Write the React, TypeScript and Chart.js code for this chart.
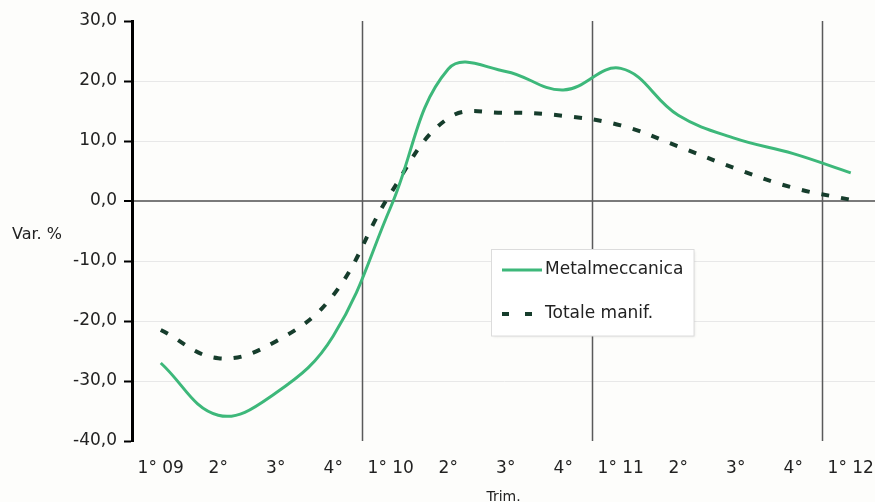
import React, { useEffect, useRef } from 'react';
import { Chart, registerables } from 'chart.js';

Chart.register(...registerables);

// ---- data ----
const categories = ['1° 09', '2°', '3°', '4°', '1° 10', '2°', '3°', '4°', '1° 11', '2°', '3°', '4°', '1° 12'];
const metalmeccanica = [-27.0, -35.7, -32.0, -22.5, -1.0, 22.0, 21.6, 18.5, 22.1, 14.3, 10.4, 7.9, 4.7];
const totaleManif = [-21.5, -26.2, -23.4, -15.7, 1.3, 13.8, 14.7, 14.2, 12.6, 9.1, 5.4, 2.2, 0.2];
const seriesNames = ['Metalmeccanica', 'Totale manif.'];
const yearDividers = [3.5, 7.5, 11.5];
const yMin = -40;
const yMax = 30;
const yStep = 10;
const yAxisLabel = 'Var. %';
const xAxisLabel = 'Trim.';

const GREEN = '#3DB87A';
const DARK = '#163D2C';
const TEXT = '#222222';
const FONT = "'DejaVu Sans', Verdana, sans-serif";

const bgPlugin = {
  id: 'bg',
  beforeDraw(chart: any) {
    const { ctx, width, height } = chart;
    ctx.save();
    ctx.fillStyle = '#fdfdfb';
    ctx.fillRect(0, 0, width, height);
    ctx.restore();
  },
};

const dividersPlugin = {
  id: 'dividers',
  beforeDatasetsDraw(chart: any) {
    const { ctx, chartArea, scales } = chart;
    ctx.save();
    ctx.strokeStyle = '#5a5a5a';
    ctx.lineWidth = 1.5;
    yearDividers.forEach((v) => {
      const x = Math.round(scales.x.getPixelForValue(v)) + 0.5;
      ctx.beginPath();
      ctx.moveTo(x, chartArea.top);
      ctx.lineTo(x, chartArea.bottom);
      ctx.stroke();
    });
    ctx.restore();
  },
};

const labelsPlugin = {
  id: 'sideLabel',
  afterDraw(chart: any) {
    const { ctx } = chart;
    ctx.save();
    ctx.fillStyle = TEXT;
    ctx.font = `16px ${FONT}`;
    ctx.textAlign = 'left';
    ctx.textBaseline = 'middle';
    ctx.fillText(yAxisLabel, 12, 235);
    ctx.restore();
  },
};

const legendPlugin = {
  id: 'boxLegend',
  afterDatasetsDraw(chart: any) {
    const { ctx } = chart;
    const left = 491.5, top = 249.5, w = 202.5, h = 86.5;
    ctx.save();
    ctx.shadowColor = 'rgba(0,0,0,0.12)';
    ctx.shadowBlur = 3;
    ctx.shadowOffsetX = 1;
    ctx.shadowOffsetY = 1;
    ctx.fillStyle = '#ffffff';
    ctx.fillRect(left, top, w, h);
    ctx.shadowColor = 'transparent';
    ctx.strokeStyle = '#dcdcdc';
    ctx.lineWidth = 1;
    ctx.strokeRect(left, top, w, h);
    const rows = [270, 314];
    chart.data.datasets.forEach((ds: any, i: number) => {
      const y = rows[i];
      ctx.beginPath();
      ctx.strokeStyle = ds.borderColor;
      ctx.lineWidth = ds.borderWidth;
      ctx.setLineDash(ds.borderDash && ds.borderDash.length ? [7, 16] : []);
      ctx.moveTo(502, y);
      ctx.lineTo(542, y);
      ctx.stroke();
      ctx.setLineDash([]);
      ctx.fillStyle = TEXT;
      ctx.font = `17px ${FONT}`;
      ctx.textAlign = 'left';
      ctx.textBaseline = 'middle';
      ctx.fillText(ds.label, 545, y);
    });
    ctx.restore();
  },
};

export default function App() {
  const ref = useRef<HTMLCanvasElement>(null);
  useEffect(() => {
    if (!ref.current) return;
    const chart = new Chart(ref.current, {
      type: 'line',
      data: {
        datasets: [
          {
            label: seriesNames[0],
            data: metalmeccanica.map((y, i) => ({ x: i, y })),
            borderColor: GREEN,
            backgroundColor: GREEN,
            borderWidth: 3,
            pointRadius: 0,
            tension: 0.4,
            fill: false,
          },
          {
            label: seriesNames[1],
            data: totaleManif.map((y, i) => ({ x: i, y })),
            borderColor: DARK,
            backgroundColor: DARK,
            borderWidth: 4,
            borderDash: [8, 12],
            borderCapStyle: 'butt',
            pointRadius: 0,
            tension: 0.4,
            fill: false,
          },
        ],
      },
      options: {
        animation: false,
        responsive: false,
        devicePixelRatio: 1,
        layout: { padding: { top: 21, left: 0, right: 0, bottom: 0 } },
        plugins: { legend: { display: false }, tooltip: { enabled: false } },
        scales: {
          x: {
            type: 'linear',
            min: -0.5,
            max: -0.5 + (875 - 132) / 57.5,
            afterBuildTicks: (s: any) => {
              s.ticks = categories.map((_, i) => ({ value: i }));
            },
            afterFit: (s: any) => {
              s.height = 61;
              s.paddingLeft = 0;
              s.paddingRight = 0;
            },
            grid: { display: false, drawTicks: false },
            border: { display: false },
            ticks: {
              autoSkip: false,
              maxRotation: 0,
              minRotation: 0,
              padding: 17,
              color: TEXT,
              font: { family: FONT, size: 17 },
              callback: (v: any) => categories[Math.round(Number(v))] ?? '',
            },
            title: {
              display: true,
              text: xAxisLabel,
              color: TEXT,
              font: { family: FONT, size: 14 },
              padding: { top: 0, bottom: -4 },
            },
          },
          y: {
            type: 'linear',
            min: yMin,
            max: yMax,
            afterFit: (s: any) => {
              s.width = 132;
            },
            ticks: {
              stepSize: yStep,
              padding: 7,
              color: TEXT,
              font: { family: FONT, size: 17 },
              callback: (v: any) => Number(v).toFixed(1).replace('.', ','),
            },
            grid: {
              drawTicks: true,
              tickLength: 8,
              tickColor: '#000',
              tickWidth: 2,
              color: (c: any) => {
                const v = c.tick?.value;
                if (v === 0) return '#7a7a7a';
                if (v === yMax || v === yMin) return 'rgba(0,0,0,0)';
                return '#e8e8e8';
              },
              lineWidth: (c: any) => (c.tick?.value === 0 ? 2 : 1),
            },
            border: { display: true, color: '#000', width: 3 },
          },
        },
      },
      plugins: [bgPlugin, dividersPlugin, legendPlugin, labelsPlugin],
    } as any);
    return () => chart.destroy();
  }, []);
  return (
    <div style={{ position: 'absolute', left: 0, top: 0, width: 875, height: 502, overflow: 'hidden' }}>
      <canvas ref={ref} width={875} height={502} style={{ display: 'block' }} />
    </div>
  );
}
